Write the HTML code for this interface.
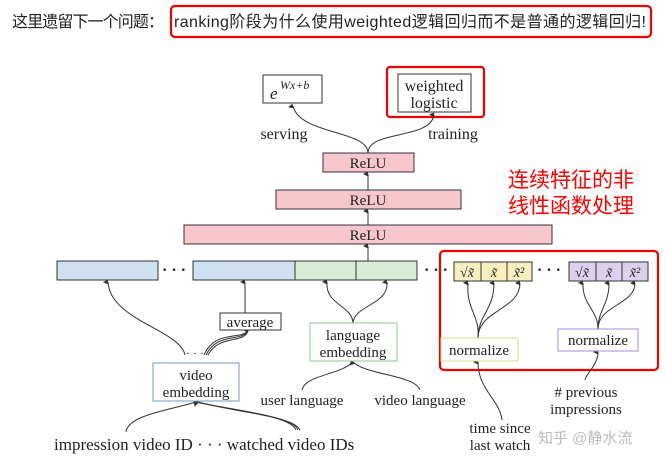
<!DOCTYPE html>
<html><head><meta charset="utf-8"><style>
html,body{margin:0;padding:0;background:#fff;}
svg{display:block;}
.s{font-family:"Liberation Serif","DejaVu Serif",serif;fill:#222;}
.c{font-family:"Liberation Sans","Noto Sans CJK SC",sans-serif;}
</style></head><body>
<svg width="665" height="476" viewBox="0 0 665 476" xmlns="http://www.w3.org/2000/svg">
<defs><marker id="a" markerWidth="6" markerHeight="6" refX="3" refY="5" orient="auto-start-reverse" markerUnits="userSpaceOnUse"><path d="M0.5,5 L3,0 L5.5,5 Z" fill="#333"/></marker></defs>
<text x="12" y="27" class="c" font-size="16" fill="#222" textLength="152">这里遗留下一个问题：</text>
<rect x="171" y="6" width="480" height="31" rx="4" fill="none" stroke="#e00" stroke-width="2.2"/>
<text x="174" y="27" class="c" font-size="16" fill="#222" textLength="472">ranking阶段为什么使用weighted逻辑回归而不是普通的逻辑回归!</text>

<rect x="263" y="75" width="59" height="28" fill="#fff" stroke="#333"/>
<text x="270" y="99" class="s" font-size="17" font-style="italic">e</text>
<text x="280" y="89" class="s" font-size="12" font-style="italic">Wx+b</text>
<rect x="387" y="67" width="97" height="50" rx="3" fill="none" stroke="#e00" stroke-width="2.2"/>
<rect x="398" y="74" width="73" height="38" fill="#fff" stroke="#333"/>
<text x="434" y="91" class="s" font-size="16" text-anchor="middle">weighted</text>
<text x="434" y="108" class="s" font-size="16" text-anchor="middle">logistic</text>
<text x="284" y="139" class="s" font-size="16" text-anchor="middle">serving</text>
<text x="453" y="139" class="s" font-size="16" text-anchor="middle">training</text>
<g fill="none" stroke="#333" stroke-width="1" marker-end="url(#a)">
<path d="M368 153 C368 130 300 135 293 106"/>
<path d="M368 153 C368 130 430 140 434 115"/>
<path d="M368 190 V174"/><path d="M368 225 V211"/><path d="M368 261 V246"/>
</g>

<rect x="323" y="153" width="91" height="19" fill="#f6c6cc" stroke="#333"/>
<text x="368" y="168" class="s" font-size="15" text-anchor="middle">ReLU</text>
<rect x="276" y="190" width="185" height="19" fill="#f6c6cc" stroke="#333"/>
<text x="368" y="205" class="s" font-size="15" text-anchor="middle">ReLU</text>
<rect x="184" y="225" width="368" height="19" fill="#f6c6cc" stroke="#333"/>
<text x="368" y="240" class="s" font-size="15" text-anchor="middle">ReLU</text>

<text x="508" y="187" class="c" font-size="21" fill="#f00">连续特征的非</text>
<text x="508" y="213" class="c" font-size="21" fill="#f00">线性函数处理</text>

<rect x="57" y="261" width="101" height="19" fill="#cfe0f3" stroke="#333"/>
<text x="162" y="275" class="s" font-size="16" font-weight="bold">· · ·</text>
<rect x="193" y="261" width="102" height="19" fill="#cfe0f3" stroke="#333"/>
<rect x="295" y="261" width="61" height="19" fill="#d5edd5" stroke="#333"/>
<rect x="356" y="261" width="61" height="19" fill="#d5edd5" stroke="#333"/>
<text x="424" y="275" class="s" font-size="16" font-weight="bold">· · ·</text>
<rect x="454" y="262" width="27" height="19" fill="#f7efbf" stroke="#333"/>
<rect x="481" y="262" width="26" height="19" fill="#f7efbf" stroke="#333"/>
<rect x="507" y="262" width="25" height="19" fill="#f7efbf" stroke="#333"/>
<text x="537" y="275" class="s" font-size="16" font-weight="bold">· · ·</text>
<rect x="569" y="262" width="27" height="19" fill="#dcd0ee" stroke="#333"/>
<rect x="596" y="262" width="26" height="19" fill="#dcd0ee" stroke="#333"/>
<rect x="622" y="262" width="26" height="19" fill="#dcd0ee" stroke="#333"/>
<g class="s" font-size="14" font-style="italic" text-anchor="middle">
<text x="467" y="277">√x̃</text><text x="494" y="277">x̃</text><text x="519" y="277">x̃²</text>
<text x="582" y="277">√x̃</text><text x="609" y="277">x̃</text><text x="635" y="277">x̃²</text>
</g>

<rect x="440" y="251" width="218" height="119" rx="4" fill="none" stroke="#e00" stroke-width="2.2"/>

<g fill="none" stroke="#333" stroke-width="1" marker-end="url(#a)">
<path d="M185 355 C180 330 110 320 108 282"/>
<path d="M245 313 V282"/>
<path d="M204 355 C215 330 240 340 248 331"/>
<path d="M208 355 C219 334 244 344 248 331"/>
<path d="M353 323 C352 305 325 305 327 282"/>
<path d="M353 323 C354 305 389 305 387 282"/>
<path d="M478 338 C480 315 466 310 468 283"/>
<path d="M478 338 C478 315 494 310 494 283"/>
<path d="M478 338 C478 310 520 310 520 283"/>
<path d="M598 329 C598 310 582 305 583 283"/>
<path d="M598 329 C598 310 609 305 609 283"/>
<path d="M598 329 C598 305 635 305 635 283"/>
<path d="M126 432 C128 415 170 410 196 402"/>
<path d="M296 430 C290 415 230 410 196 402"/>
<path d="M302 390 C305 375 340 375 353 362"/>
<path d="M420 390 C415 375 366 375 353 362"/>
<path d="M502 420 C500 400 478 390 478 362"/>
<path d="M585 380 C585 375 598 365 598 352"/>
</g>
<g fill="none" stroke="#333" stroke-width="1">
<path d="M206 355 C217 332 242 342 248 331"/>
<path d="M298 430 C292 415 232 411 197 402"/>
<path d="M300 430 C294 416 234 412 198 402"/>
</g>

<rect x="220" y="313" width="61" height="17" fill="#fff" stroke="#333"/>
<text x="250" y="327" class="s" font-size="15" text-anchor="middle">average</text>
<rect x="310" y="323" width="87" height="38" fill="#fff" stroke="#8c8"/>
<text x="353" y="340" class="s" font-size="15" text-anchor="middle">language</text>
<text x="353" y="357" class="s" font-size="15" text-anchor="middle">embedding</text>
<rect x="441" y="338" width="77" height="23" fill="#fff" stroke="#dd8"/>
<text x="479" y="355" class="s" font-size="15" text-anchor="middle">normalize</text>
<rect x="558" y="329" width="80" height="22" fill="#fff" stroke="#a8d"/>
<text x="598" y="345" class="s" font-size="15" text-anchor="middle">normalize</text>
<text x="195" y="357" class="s" font-size="12" text-anchor="middle">· · ·</text>
<rect x="153" y="363" width="86" height="38" fill="#fff" stroke="#79b"/>
<text x="196" y="380" class="s" font-size="15" text-anchor="middle">video</text>
<text x="196" y="397" class="s" font-size="15" text-anchor="middle">embedding</text>

<text x="302" y="405" class="s" font-size="15" text-anchor="middle">user language</text>
<text x="420" y="405" class="s" font-size="15" text-anchor="middle">video language</text>
<text x="586" y="397" class="s" font-size="15" text-anchor="middle"># previous</text>
<text x="586" y="414" class="s" font-size="15" text-anchor="middle">impressions</text>
<text x="500" y="433" class="s" font-size="15" text-anchor="middle">time since</text>
<text x="500" y="450" class="s" font-size="15" text-anchor="middle">last watch</text>
<text x="54" y="450" class="s" font-size="17">impression video ID · · · watched video IDs</text>
<text x="538" y="443" class="c" font-size="15" fill="#bbb">知乎 @静水流</text>
</svg>
</body></html>
